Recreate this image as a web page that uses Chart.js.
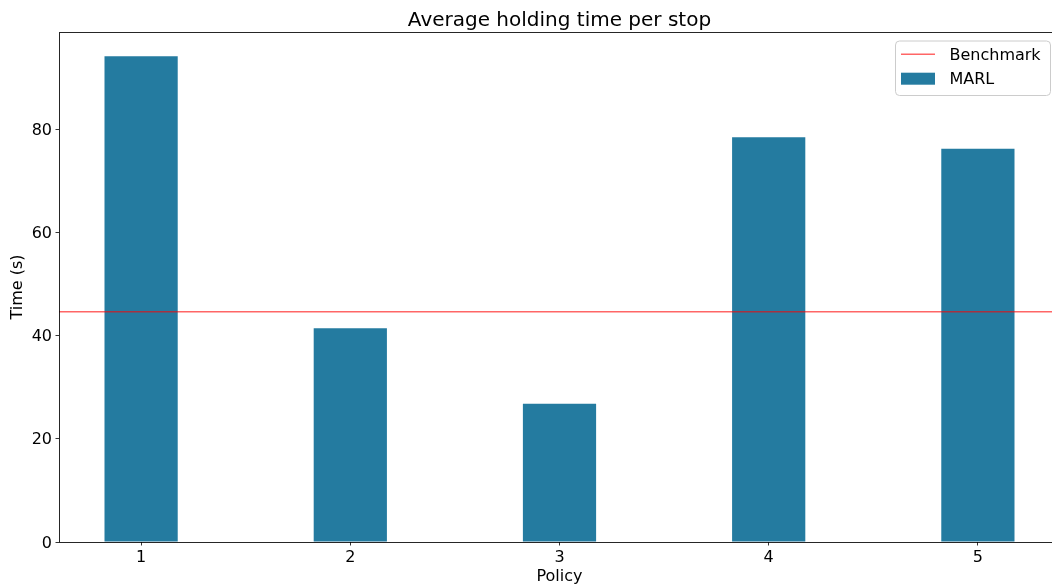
<!DOCTYPE html>
<html>
<head>
<meta charset="utf-8">
<title>Average holding time per stop</title>
<script src="https://cdn.jsdelivr.net/npm/chart.js@4.4.1/dist/chart.umd.min.js"></script>
<style>
  html, body { margin: 0; padding: 0; background: #ffffff; overflow: hidden; }
  #wrap { width: 1052px; height: 587px; overflow: hidden; position: relative; }
  canvas { display: block; }
</style>
</head>
<body>
<div id="wrap"><canvas id="chart" width="1061" height="587"></canvas></div>
<script>
// ---- data ----
const policies = [1, 2, 3, 4, 5];
const marlTimes = [94.1, 41.4, 26.8, 78.4, 76.2];
const benchmarkTime = 44.6;
const yTickValues = [0, 20, 40, 60, 80];
const seriesLabels = ['Benchmark', 'MARL'];
const chartTitle = 'Average holding time per stop';
const xAxisLabel = 'Policy';
const yAxisLabel = 'Time (s)';

// ---- styling ----
const FONT = "'DejaVu Sans', sans-serif";
const BAR_COLOR = '#247ba0';
const LINE_COLOR = 'rgba(255, 0, 0, 0.6)';
const BAR_WIDTH = 0.35;   // bar width as a fraction of the policy spacing
const MARGIN = 0.05;      // axis margin around the data extent

// axis limits: bar extent plus a 5 % margin on each side
const xLo = policies[0] - BAR_WIDTH / 2;
const xHi = policies[policies.length - 1] + BAR_WIDTH / 2;
const xMin = xLo - (xHi - xLo) * MARGIN;
const xMax = xHi + (xHi - xLo) * MARGIN;
const yMax = Math.max(...marlTimes) * (1 + MARGIN);

Chart.defaults.font.family = FONT;
Chart.defaults.font.size = 16;
Chart.defaults.color = '#000000';

// axes box (all four spines)
const axesFrame = {
  id: 'axesFrame',
  afterDatasetsDraw(chart) {
    const { ctx, chartArea: a } = chart;
    ctx.save();
    ctx.strokeStyle = 'rgba(0,0,0,0.85)';
    ctx.lineWidth = 1;
    ctx.strokeRect(a.left + 0.5, a.top + 0.5, a.right - a.left, a.bottom - a.top);
    ctx.restore();
  }
};

// title centred over the plotting area
const plotTitle = {
  id: 'plotTitle',
  afterDraw(chart) {
    const { ctx, chartArea: a } = chart;
    ctx.save();
    ctx.font = '20px ' + FONT;
    ctx.fillStyle = '#000000';
    ctx.textAlign = 'center';
    ctx.textBaseline = 'alphabetic';
    ctx.fillText(chartTitle, (a.left + a.right) / 2, a.top - 6.3);
    ctx.restore();
  }
};

// legend box in the upper-right corner of the axes
const inlineLegend = {
  id: 'inlineLegend',
  afterDraw(chart) {
    const { ctx, chartArea: a } = chart;
    const sets = chart.data.datasets;
    const left = a.right - 165;
    const top = a.top + 8.5;
    const width = 155;
    const height = 54.5;
    const rows = [13.8, 38.2];
    ctx.save();
    // frame
    ctx.beginPath();
    ctx.roundRect(left + 0.5, top + 0.5, width, height, 4);
    ctx.fillStyle = 'rgba(255,255,255,0.8)';
    ctx.fill();
    ctx.strokeStyle = '#cccccc';
    ctx.lineWidth = 1;
    ctx.stroke();
    // entries
    ctx.font = '16px ' + FONT;
    ctx.textAlign = 'left';
    ctx.textBaseline = 'alphabetic';
    sets.forEach((ds, i) => {
      const cy = top + rows[i];
      if (ds.type === 'line') {
        ctx.beginPath();
        ctx.moveTo(left + 6, cy);
        ctx.lineTo(left + 40, cy);
        ctx.strokeStyle = ds.borderColor;
        ctx.lineWidth = ds.borderWidth;
        ctx.stroke();
      } else {
        ctx.fillStyle = ds.backgroundColor;
        ctx.fillRect(left + 6, cy - 6, 34, 12);
      }
      ctx.fillStyle = '#000000';
      ctx.fillText(ds.label, left + 54.5, cy + 5.6);
    });
    ctx.restore();
  }
};

new Chart(document.getElementById('chart'), {
  type: 'bar',
  data: {
    datasets: [
      {
        type: 'line',
        label: seriesLabels[0],
        data: [{ x: xMin, y: benchmarkTime }, { x: xMax, y: benchmarkTime }],
        borderColor: LINE_COLOR,
        borderWidth: 1.5,
        pointRadius: 0,
        fill: false
      },
      {
        type: 'bar',
        label: seriesLabels[1],
        data: policies.map((p, i) => ({ x: p, y: marlTimes[i] })),
        backgroundColor: BAR_COLOR,
        borderWidth: 0,
        categoryPercentage: 1,
        barPercentage: BAR_WIDTH
      }
    ]
  },
  options: {
    responsive: false,
    animation: false,
    events: [],
    layout: { padding: { top: 32, right: 1, bottom: 0, left: 0 } },
    plugins: {
      legend: { display: false },
      tooltip: { enabled: false },
      title: { display: false }
    },
    scales: {
      x: {
        type: 'linear',
        min: xMin,
        max: xMax,
        offset: false,
        afterBuildTicks: s => { s.ticks = policies.map(v => ({ value: v })); },
        afterFit: s => { s.height = 45; },
        grid: {
          display: true, offset: false, drawOnChartArea: false, drawTicks: true,
          tickLength: 3.5, color: '#000000', lineWidth: 0.8
        },
        border: { display: false },
        ticks: { padding: 2.3, color: '#000000', font: { size: 16 }, callback: v => String(v) },
        title: { display: true, text: xAxisLabel, color: '#000000', font: { size: 16 }, padding: { top: 0, bottom: 1 } }
      },
      y: {
        type: 'linear',
        min: 0,
        max: yMax,
        afterBuildTicks: s => { s.ticks = yTickValues.map(v => ({ value: v })); },
        afterFit: s => { s.width = 59; },
        grid: {
          display: true, drawOnChartArea: false, drawTicks: true,
          tickLength: 3.5, color: '#000000', lineWidth: 0.8
        },
        border: { display: false },
        ticks: { padding: 3.5, labelOffset: 1.5, color: '#000000', font: { size: 16 }, callback: v => String(v) },
        title: { display: true, text: yAxisLabel, color: '#000000', font: { size: 16 }, padding: { top: 8.6, bottom: 0 } }
      }
    }
  },
  plugins: [axesFrame, plotTitle, inlineLegend]
});
</script>
</body>
</html>
